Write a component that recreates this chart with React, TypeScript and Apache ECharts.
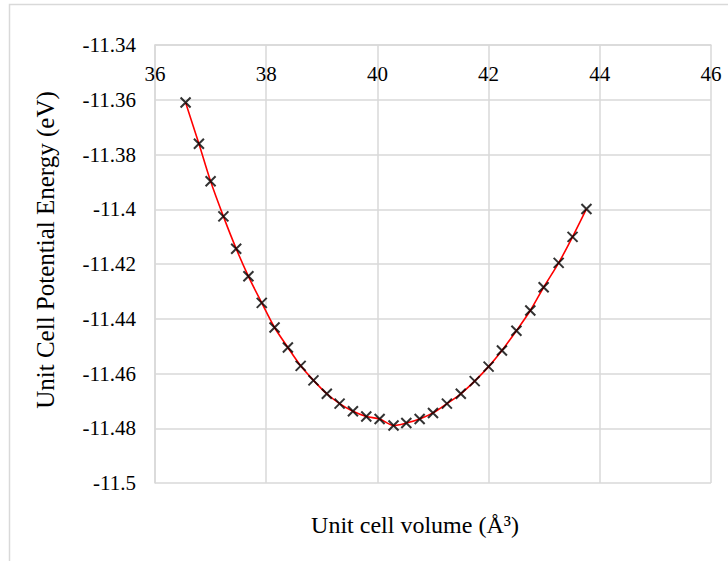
import React, { useEffect, useRef } from "react";
import * as echarts from "echarts";

// Unit cell volume (Å³)
const volumes: number[] = [
  36.55, 36.79, 37.0, 37.23, 37.46, 37.68, 37.92, 38.15, 38.39, 38.62, 38.85,
  39.09, 39.32, 39.56, 39.8, 40.04, 40.29, 40.52, 40.76, 41.0, 41.25, 41.5,
  41.75, 42.0, 42.24, 42.5, 42.75, 42.99, 43.26, 43.51, 43.76,
];

// Unit cell potential energy (eV)
const energies: number[] = [
  -11.361, -11.3761, -11.3898, -11.4026, -11.4144, -11.4245, -11.4342,
  -11.4432, -11.4505, -11.4572, -11.4625, -11.4674, -11.471, -11.4738,
  -11.4757, -11.4766, -11.479, -11.4781, -11.4766, -11.4744, -11.471,
  -11.4674, -11.4628, -11.4575, -11.4516, -11.4444, -11.437, -11.4285,
  -11.4196, -11.4101, -11.3999,
];

const xTicks: number[] = [36, 38, 40, 42, 44, 46];
const yTicks: number[] = [-11.5, -11.48, -11.46, -11.44, -11.42, -11.4, -11.38, -11.36, -11.34];

const xTitle = "Unit cell volume (Å³)";
const yTitle = "Unit Cell Potential Energy (eV)";

const FONT = "Liberation Serif";
const GRID = "#d9d9d9";

export default function App() {
  const ref = useRef<HTMLDivElement>(null);

  useEffect(() => {
    if (!ref.current) return;
    const chart = echarts.init(ref.current, undefined, { renderer: "svg" });
    const points = volumes.map((v, i) => [v, energies[i]]);
    const yInterval = +(yTicks[1] - yTicks[0]).toFixed(2);

    chart.setOption({
      animation: false,
      backgroundColor: "#ffffff",
      textStyle: { fontFamily: FONT },
      grid: { left: 155, right: 17, top: 45, bottom: 78, containLabel: false },
      xAxis: {
        type: "value",
        position: "top",
        min: xTicks[0],
        max: xTicks[xTicks.length - 1],
        interval: xTicks[1] - xTicks[0],
        axisLine: { show: true, onZero: false, lineStyle: { color: GRID, width: 1.5 } },
        axisTick: { show: false },
        splitLine: { show: true, lineStyle: { color: GRID, width: 1.5 } },
        axisLabel: {
          inside: true,
          margin: 18,
          color: "#000",
          fontFamily: FONT,
          fontSize: 21,
          showMinLabel: true,
          showMaxLabel: true,
          hideOverlap: false,
        },
      },
      yAxis: {
        type: "value",
        min: yTicks[0],
        max: yTicks[yTicks.length - 1],
        interval: yInterval,
        axisLine: { show: true, onZero: false, lineStyle: { color: GRID, width: 1.5 } },
        axisTick: { show: false },
        splitLine: { show: true, lineStyle: { color: GRID, width: 1.5 } },
        axisLabel: {
          margin: 19,
          color: "#000",
          fontFamily: FONT,
          fontSize: 21,
          formatter: (v: number) => String(parseFloat(v.toFixed(2))),
        },
      },
      graphic: [
        {
          type: "rect",
          silent: true,
          shape: { x: 9.5, y: 4.5, width: 760, height: 620 },
          style: { fill: "none", stroke: GRID, lineWidth: 1.5 },
          z: -10,
        },
        {
          type: "text",
          x: 415,
          y: 525,
          style: {
            text: xTitle,
            fontFamily: FONT,
            fontSize: 24,
            fill: "#000",
            align: "center",
            verticalAlign: "middle",
          },
        },
        {
          type: "text",
          x: 45,
          y: 250,
          rotation: Math.PI / 2,
          style: {
            text: yTitle,
            fontFamily: FONT,
            fontSize: 25,
            fill: "#000",
            align: "center",
            verticalAlign: "middle",
          },
        },
      ],
      series: [
        {
          type: "line",
          data: points,
          smooth: 0.3,
          showSymbol: false,
          lineStyle: { color: "#ff0000", width: 1.6 },
          z: 2,
        },
        {
          type: "scatter",
          data: points,
          symbol: "path://M0,0L10,10M10,0L0,10",
          symbolSize: 10,
          itemStyle: { color: "none", borderColor: "#000", borderWidth: 2 },
          z: 3,
        },
      ],
    });

    return () => chart.dispose();
  }, []);

  return (
    <div
      ref={ref}
      style={{ position: "absolute", left: 0, top: 0, width: 728, height: 561 }}
    />
  );
}
